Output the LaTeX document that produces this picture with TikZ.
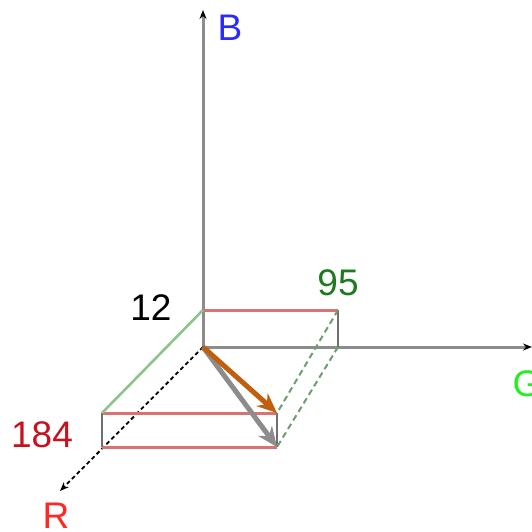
\documentclass[tikz,border=0pt]{standalone}
\usepackage{fontspec}
\setmainfont{Liberation Sans}
\usepackage{xcolor}
\usetikzlibrary{arrows.meta}

\definecolor{axisgray}{HTML}{8C8C8C}
\definecolor{boxred}{HTML}{D97373}
\definecolor{boxgreen}{HTML}{8CC48C}
\definecolor{vecorange}{HTML}{C0600F}
\definecolor{labred}{HTML}{FF2626}
\definecolor{numred}{HTML}{C8101E}
\definecolor{numgreen}{HTML}{1E7A1E}
\definecolor{labgreen}{HTML}{22F022}
\definecolor{labblue}{HTML}{2A2AFF}

\begin{document}
\begin{tikzpicture}[
  x=1pt, y=1pt,
  axis/.style={-{Stealth[length=9pt, width=7pt, color=black]}, draw=axisgray, line width=3pt},
  redline/.style={draw=boxred, line width=3pt},
  greenline/.style={draw=boxgreen, line width=2.6pt},
  greendash/.style={draw=boxgreen!80!black, line width=2pt, dash pattern=on 6pt off 4pt},
  edge/.style={draw=axisgray!80!black, line width=2.4pt},
  vec/.style={-{Stealth[length=20pt, width=17pt]}, line width=5pt},
  lab/.style={inner sep=0pt, font=\fontsize{37}{40}\selectfont}
]
\useasboundingbox (0,0) rectangle (532,-531);

% Corners
\coordinate (O) at (203,-347);
\coordinate (Btip) at (203,-10);
\coordinate (Gtip) at (532,-347);
\coordinate (Rtip) at (60,-491);
\coordinate (top) at (203,-310);
\coordinate (topg) at (338,-310);
\coordinate (botg) at (338,-347);
\coordinate (ftl) at (102,-413);
\coordinate (fbl) at (102,-447);
\coordinate (ftr) at (277,-413);
\coordinate (fbr) at (277,-447);

% Axes
\draw[axis] (O) -- (Btip);
\draw[axis] (O) -- (Gtip);
\draw[-{Stealth[length=9pt, width=7pt]}, black, line width=1.8pt, dash pattern=on 4pt off 3pt] (O) -- (Rtip);

% Box
\draw[redline] (top) -- (topg);
\draw[redline] (ftl) -- (ftr);
\draw[redline] (fbl) -- (fbr);
\draw[edge] (topg) -- (botg);
\draw[edge] (ftl) -- (fbl);
\draw[edge] (ftr) -- (fbr);
\draw[greenline] (top) -- (ftl);
\draw[greendash] (topg) -- (ftr);
\draw[greendash] (botg) -- (fbr);

% Vectors
\draw[vec, axisgray] (O) -- (fbr);
\draw[vec, vecorange] (O) -- (ftr);

% Labels
\node[lab, labblue] (blab) at (230,-28) {B};
\node[lab, labgreen] (glab) at (527,-384) {G};
\node[lab, labred] (rlab) at (56,-516) {R};
\node[lab, black] (nb) at (151,-308) {12};
\node[lab, numgreen] (ng) at (338,-283) {95};
\node[lab, numred] (nr) at (42,-435) {184};
\end{tikzpicture}
\end{document}
